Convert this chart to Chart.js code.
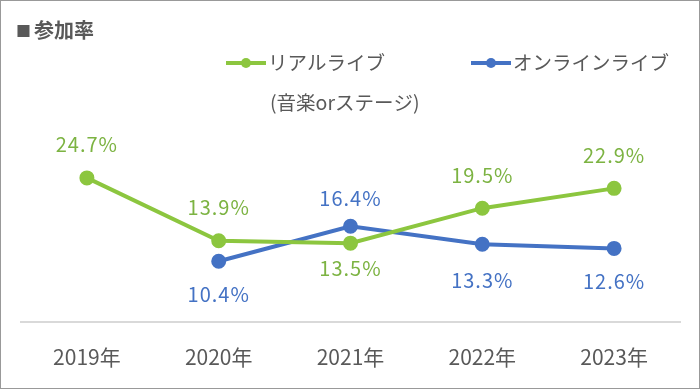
<!DOCTYPE html>
<html><head><meta charset="utf-8">
<script src="https://cdn.jsdelivr.net/npm/chart.js@4"></script>
<style>html,body{margin:0;padding:0;background:#fff}#wrap{width:700px;height:389px}</style>
</head><body><div id="wrap"><canvas id="c" width="700" height="389"></canvas></div>
<script>
const categories = ['2019年','2020年','2021年','2022年','2023年'];
const realLive = [24.7, 13.9, 13.5, 19.5, 22.9];
const onlineLive = [null, 10.4, 16.4, 13.3, 12.6];
const seriesNames = [['リアルライブ','(音楽orステージ)'], ['オンラインライブ']];
const titleMark = '■';
const titleText = '参加率';

const FONT = '"Noto Sans CJK JP", "Noto Sans", sans-serif';
const GREEN = '#8CC63F';
const GREEN_TXT = '#7CB342';
const BLUE = '#4472C4';
const GRAY = '#595959';

const decor = {
  id: 'decor',
  afterDatasetsDraw(chart) {
    const ctx = chart.ctx;
    ctx.save();
    chart.data.datasets.forEach((ds, di) => {
      const meta = chart.getDatasetMeta(di);
      meta.data.forEach((pt, i) => {
        const v = ds.data[i];
        if (v == null) return;
        const pos = ds.labelPos[i];
        const dy = pos === 'top' ? -ds.labelOff[i] : ds.labelOff[i];
        ctx.font = '20px ' + FONT;
        ctx.letterSpacing = '1px';
        ctx.fillStyle = ds.labelColor;
        ctx.textAlign = 'center';
        ctx.textBaseline = 'middle';
        ctx.fillText(v.toFixed(1) + '%', pt.x, pt.y + dy);
      });
    });
    ctx.letterSpacing = '0px';
    ctx.fillStyle = GRAY;
    ctx.textAlign = 'left';
    ctx.textBaseline = 'middle';
    ctx.font = '15px ' + FONT;
    ctx.fillText(titleMark, 16, 31);
    ctx.font = 'bold 20px ' + FONT;
    ctx.fillText(titleText, 34, 30);
    const items = [{x: 226, ds: 0}, {x: 471, ds: 1}];
    items.forEach(it => {
      const ds = chart.data.datasets[it.ds];
      ctx.strokeStyle = ds.borderColor;
      ctx.lineWidth = 4;
      ctx.beginPath();
      ctx.moveTo(it.x, 63); ctx.lineTo(it.x + 40, 63); ctx.stroke();
      ctx.fillStyle = ds.borderColor;
      ctx.beginPath(); ctx.arc(it.x + 20, 63, 5, 0, Math.PI * 2); ctx.fill();
      ctx.font = '19.5px ' + FONT;
      ctx.fillStyle = GRAY;
      ctx.textAlign = 'left';
      const lines = seriesNames[it.ds];
      lines.forEach((t, li) => ctx.fillText(t, it.x + 42 + (li ? 2 : 0), 63 + li * 40));
    });
    ctx.strokeStyle = '#999';
    ctx.lineWidth = 1;
    ctx.strokeRect(0.5, 0.5, 699, 388);
    ctx.restore();
  }
};

new Chart(document.getElementById('c'), {
  type: 'line',
  data: {
    labels: categories,
    datasets: [
      { label: seriesNames[0].join(''), data: realLive, borderColor: GREEN, backgroundColor: GREEN,
        borderWidth: 4, pointRadius: 5.5, pointHoverRadius: 5.5, tension: 0, labelColor: GREEN_TXT,
        labelPos: ['top','top','bottom','top','top'], labelOff: [33, 33, 25, 33, 33] },
      { label: seriesNames[1].join(''), data: onlineLive, borderColor: BLUE, backgroundColor: BLUE,
        borderWidth: 4, pointRadius: 5.5, pointHoverRadius: 5.5, tension: 0, labelColor: BLUE,
        labelPos: ['top','bottom','top','bottom','bottom'], labelOff: [0, 33, 28, 36, 33] }
    ]
  },
  options: {
    responsive: false, animation: false, devicePixelRatio: 1,
    layout: { padding: { top: 147, left: 21, right: 20, bottom: 4 } },
    plugins: { legend: { display: false }, title: { display: false }, tooltip: { enabled: false } },
    scales: {
      x: { offset: true, grid: { display: false },
           border: { display: true, color: '#d9d9d9', width: 2 },
           ticks: { color: GRAY, font: { family: FONT, size: 21 }, padding: 15, maxRotation: 0 } },
      y: { display: false, min: 0, max: 30 }
    }
  },
  plugins: [decor]
});
</script></body></html>
